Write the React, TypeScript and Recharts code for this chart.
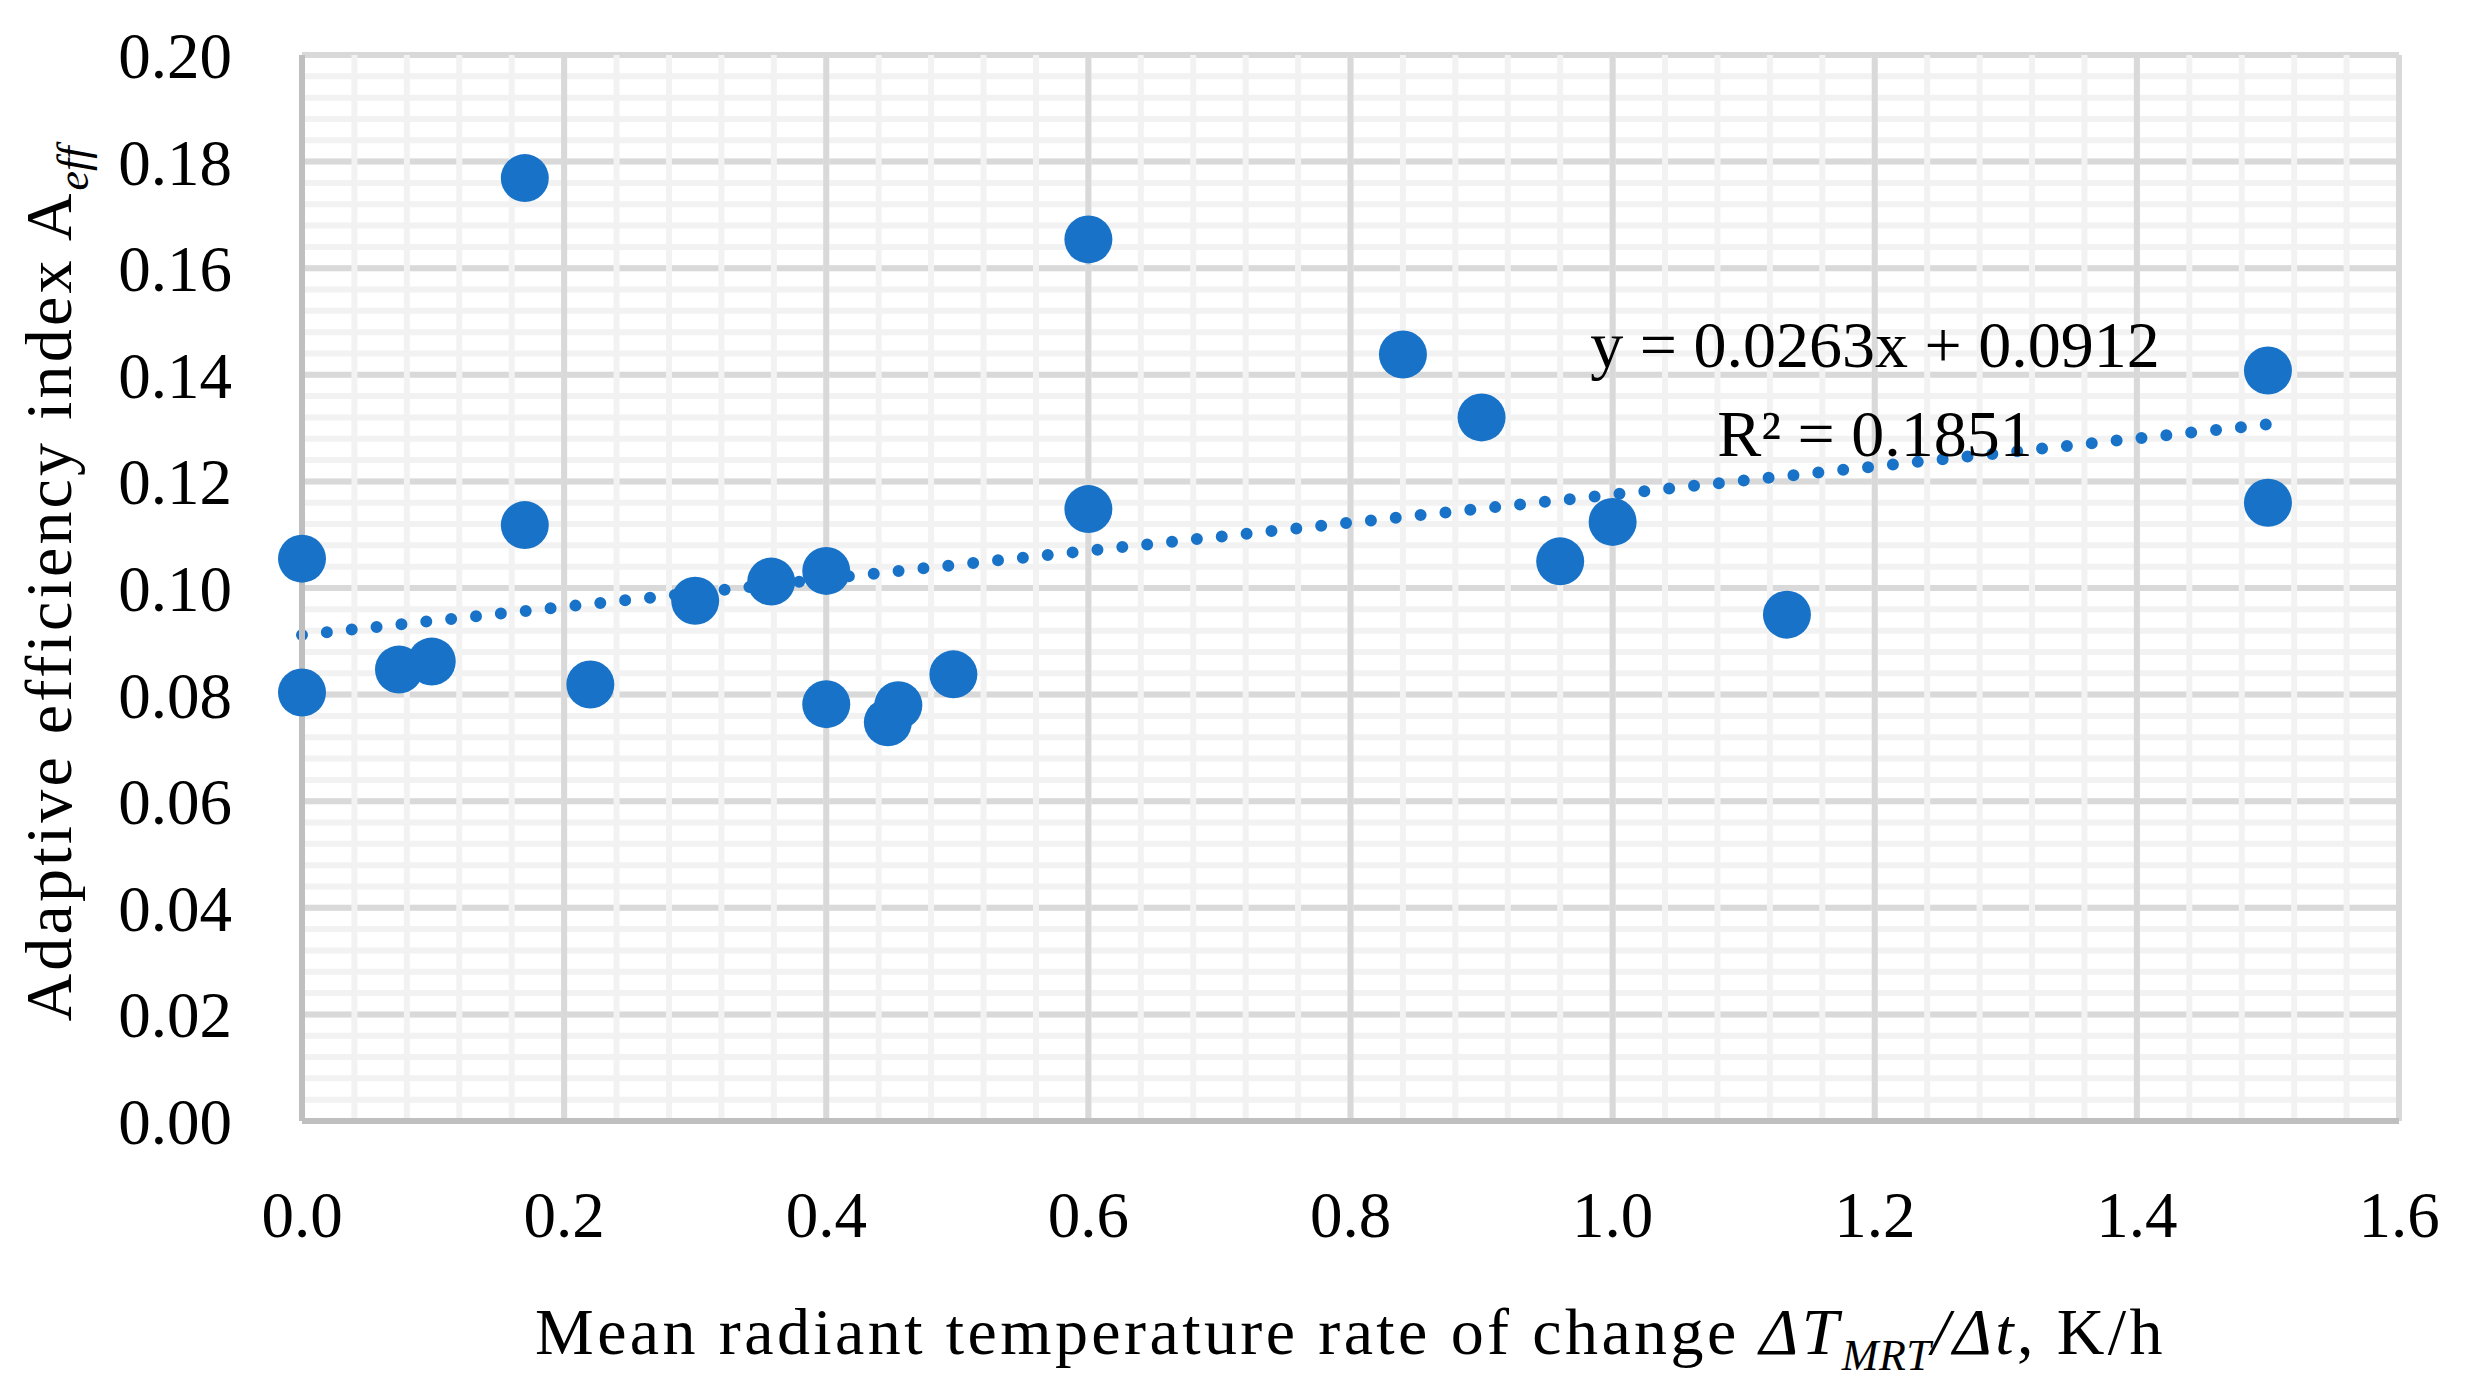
import { ComposedChart, Scatter, XAxis, YAxis, ReferenceLine, ReferenceDot } from 'recharts';

// measured points: rate of change dTmrt/dt (K/h) vs adaptive efficiency index
const rateX = [0, 0, 0.074, 0.099, 0.17, 0.17, 0.22, 0.30, 0.358, 0.40, 0.40, 0.447, 0.455, 0.497, 0.60, 0.60, 0.84, 0.90, 0.96, 1.00, 1.133, 1.50, 1.50];
const aeffY = [0.1055, 0.0804, 0.0847, 0.0862, 0.1769, 0.1118, 0.0819, 0.0976, 0.1012, 0.1032, 0.0782, 0.0748, 0.0780, 0.0838, 0.1654, 0.1148, 0.1438, 0.1320, 0.1050, 0.1124, 0.0950, 0.1408, 0.1160];

// linear trend endpoints as drawn
const trendX = [0, 1.5];
const trendY = [0.0912, 0.1307];

const xTicks = [0, 0.2, 0.4, 0.6, 0.8, 1.0, 1.2, 1.4, 1.6];
const yTicks = [0, 0.02, 0.04, 0.06, 0.08, 0.1, 0.12, 0.14, 0.16, 0.18, 0.2];
const xMinor = Array.from({ length: 41 }, (_, i) => +(i * 0.04).toFixed(2));
const yMinor = Array.from({ length: 51 }, (_, i) => +(i * 0.004).toFixed(3));

const W = 2450;
const H = 1371;
const FONT = '"Palatino Linotype", "Book Antiqua", Palatino, "Liberation Serif", serif';
const BLUE = '#1873c8';
const MAJOR = '#d9d9d9';
const MINOR = '#f2f2f2';

const points = rateX.map((x, i) => ({ x, y: aeffY[i] }));

function YTitle({ viewBox }: any) {
  const x = viewBox.x + 63;
  const y = viewBox.y + viewBox.height / 2 - 4;
  return (
    <text transform={`translate(${x},${y}) rotate(-90)`} textAnchor="middle" fontFamily={FONT} fontSize={66} letterSpacing={3.2} fill="#000">
      Adaptive efficiency index A
      <tspan fontStyle="italic" fontSize={44} dy={17} letterSpacing={0}>eff</tspan>
    </text>
  );
}

function XTitle({ viewBox }: any) {
  const x = viewBox.x + viewBox.width / 2;
  const y = viewBox.y + 233;
  return (
    <text x={x} y={y} textAnchor="middle" fontFamily={FONT} fontSize={66} letterSpacing={3.4} fill="#000">
      Mean radiant temperature rate of change <tspan fontStyle="italic">ΔT</tspan>
      <tspan fontStyle="italic" fontSize={44} dy={16} letterSpacing={0.5}>MRT</tspan>
      <tspan fontStyle="italic" dy={-16}>/Δt</tspan>, K/h
    </text>
  );
}

function EqLabel({ viewBox }: any) {
  const x = viewBox.x + viewBox.width / 2;
  const y = viewBox.y + viewBox.height / 2;
  return (
    <g fontFamily={FONT} fontSize={66} fill="#000">
      <text x={x} y={y} textAnchor="middle">y = 0.0263x + 0.0912</text>
      <text x={x} y={y + 89} textAnchor="middle">R² = 0.1851</text>
    </g>
  );
}

export default function App() {
  return (
    <div style={{ width: W, height: H }}>
      <ComposedChart width={W} height={H} margin={{ top: 47, right: 59, left: 0, bottom: 0 }}>
        <XAxis
          type="number"
          dataKey="x"
          domain={[0, 1.6]}
          ticks={xTicks}
          tickFormatter={v => v.toFixed(1)}
          tick={{ fill: '#000', fontSize: 65, fontFamily: FONT }}
          tickLine={false}
          tickSize={0}
          tickMargin={70}
          axisLine={{ stroke: '#bfbfbf', strokeWidth: 6 }}
          height={258}
          label={{ content: XTitle }}
        />
        <YAxis
          type="number"
          dataKey="y"
          domain={[0, 0.2]}
          ticks={yTicks}
          tickFormatter={v => v.toFixed(2)}
          tick={{ fill: '#000', fontSize: 65, fontFamily: FONT }}
          tickLine={false}
          tickSize={0}
          tickMargin={70}
          axisLine={{ stroke: '#bfbfbf', strokeWidth: 6 }}
          width={294}
          label={{ content: YTitle }}
        />

        {/* gridlines, drawn in Excel's order */}
        {yMinor.map(v => (
          <ReferenceLine key={'hm' + v} y={v} stroke={MINOR} strokeWidth={6} />
        ))}
        {yTicks.map(v => (
          <ReferenceLine key={'hM' + v} y={v} stroke={MAJOR} strokeWidth={6} />
        ))}
        {xMinor.map(v => (
          <ReferenceLine key={'vm' + v} x={v} stroke={MINOR} strokeWidth={6} />
        ))}
        {xTicks.map(v => (
          <ReferenceLine key={'vM' + v} x={v} stroke={MAJOR} strokeWidth={6} />
        ))}

        {/* dotted linear trend */}
        <ReferenceLine
          segment={[
            { x: trendX[0], y: trendY[0] },
            { x: trendX[1], y: trendY[1] },
          ]}
          stroke={BLUE}
          strokeWidth={12}
          strokeDasharray="0 25"
          strokeLinecap="round"
        />

        <Scatter
          data={points}
          dataKey="y"
          isAnimationActive={false}
          shape={(p: any) => <circle cx={p.cx} cy={p.cy} r={24} fill={BLUE} />}
        />

        <ReferenceDot x={1.2002} y={0.14146} r={1} fill="none" stroke="none" label={{ content: EqLabel }} />
      </ComposedChart>
    </div>
  );
}
